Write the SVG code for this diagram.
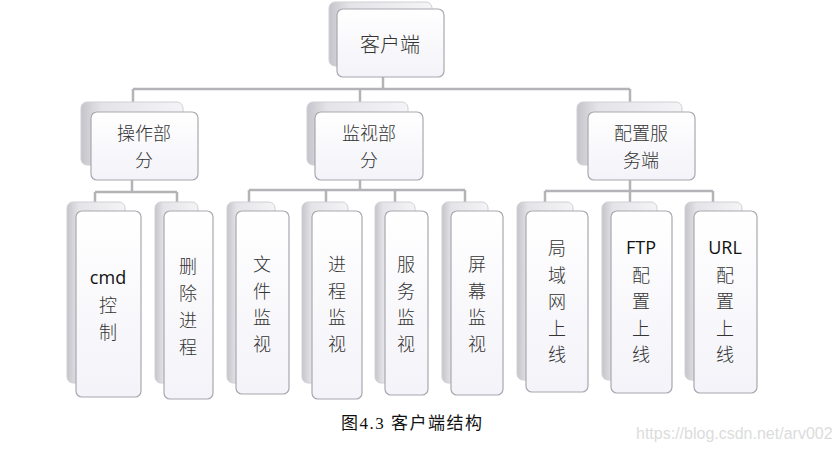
<svg xmlns="http://www.w3.org/2000/svg" width="838" height="452" viewBox="0 0 838 452">
<style>
.back{fill:url(#gb);stroke:#d0d0d6;stroke-width:1}
.front{fill:url(#gf);stroke:#a8a8b0;stroke-width:1.2}
.t{font-family:"Noto Sans CJK SC","Noto Sans",sans-serif;font-size:18px;font-weight:300;fill:#333;text-anchor:middle;dominant-baseline:central}
.e{font-family:"Open Sans","Noto Sans",sans-serif;font-size:18px;font-weight:400;fill:#111}
.c{fill:none;stroke:#b4b4b8;stroke-width:2.5}
</style>
<defs>
<linearGradient id="gb" x1="0" y1="0" x2="1" y2="0">
<stop offset="0" stop-color="#c4c4ca"/><stop offset="0.2" stop-color="#e4e4e8"/><stop offset="1" stop-color="#f4f4f6"/>
</linearGradient>
<linearGradient id="gf" x1="0" y1="0" x2="0" y2="1">
<stop offset="0" stop-color="#ffffff"/><stop offset="1" stop-color="#f3f3f9"/>
</linearGradient>
</defs>
<rect width="838" height="452" fill="#fff"/>
<g id="connectors">
<path class="c" d="M383 77V89M133 89H630M133 89V102M360 89V102M630 89V102"/>
<path class="c" d="M132 180V192M95 192H177M95 192V202M177 192V202"/>
<path class="c" d="M360 180V190M249 190H465M249 190V202M326 190V202M395 190V202M465 190V202"/>
<path class="c" d="M630 180V191M545 191H713M545 191V202M630 191V202M713 191V202"/>
</g>
<g id="root">
<rect class="back" x="329" y="2" width="103" height="64" rx="6"/>
<rect class="front" x="337" y="9" width="107" height="68" rx="6"/>
<text class="t" x="390" y="43" style="font-size:20px">客户端</text>
</g>
<g id="op">
<rect class="back" x="81" y="102" width="102" height="63" rx="6"/>
<rect class="front" x="91" y="112" width="107" height="68" rx="6"/>
<text class="t" x="144" y="132">操作部<tspan x="144" dy="26.5">分</tspan></text>
</g>
<g id="mon">
<rect class="back" x="307" y="102" width="101" height="63" rx="6"/>
<rect class="front" x="315" y="112" width="108" height="68" rx="6"/>
<text class="t" x="369" y="132">监视部<tspan x="369" dy="26.5">分</tspan></text>
</g>
<g id="cfg">
<rect class="back" x="577" y="102" width="105" height="63" rx="6"/>
<rect class="front" x="588" y="112" width="107" height="68" rx="6"/>
<text class="t" x="641" y="132">配置服<tspan x="641" dy="26.5">务端</tspan></text>
</g>
<g id="cmd">
<rect class="back" x="67" y="202" width="58" height="181" rx="6"/>
<rect class="front" x="76" y="211" width="65" height="186" rx="6"/>
<text class="t" x="108" y="277"><tspan class="e">cmd</tspan><tspan x="108" dy="27">控</tspan><tspan x="108" dy="26.5">制</tspan></text>
</g>
<g id="del">
<rect class="back" x="155" y="202" width="43" height="181" rx="6"/>
<rect class="front" x="164" y="211" width="49" height="188" rx="6"/>
<text class="t" x="188" y="265">删<tspan x="188" dy="27">除</tspan><tspan x="188" dy="27">进</tspan><tspan x="188" dy="27">程</tspan></text>
</g>
<g id="file">
<rect class="back" x="227" y="202" width="48" height="181" rx="6"/>
<rect class="front" x="236" y="211" width="53" height="183" rx="6"/>
<text class="t" x="262" y="263">文<tspan x="262" dy="26.5">件</tspan><tspan x="262" dy="26.5">监</tspan><tspan x="262" dy="26.5">视</tspan></text>
</g>
<g id="proc">
<rect class="back" x="302" y="202" width="46" height="181" rx="6"/>
<rect class="front" x="312" y="211" width="50" height="188" rx="6"/>
<text class="t" x="337" y="263">进<tspan x="337" dy="26.5">程</tspan><tspan x="337" dy="26.5">监</tspan><tspan x="337" dy="26.5">视</tspan></text>
</g>
<g id="svc">
<rect class="back" x="375" y="202" width="40" height="181" rx="6"/>
<rect class="front" x="385" y="211" width="43" height="184" rx="6"/>
<text class="t" x="406" y="263">服<tspan x="406" dy="26.5">务</tspan><tspan x="406" dy="26.5">监</tspan><tspan x="406" dy="26.5">视</tspan></text>
</g>
<g id="scr">
<rect class="back" x="442" y="202" width="46" height="181" rx="6"/>
<rect class="front" x="451" y="211" width="52" height="184" rx="6"/>
<text class="t" x="477" y="263">屏<tspan x="477" dy="26.5">幕</tspan><tspan x="477" dy="26.5">监</tspan><tspan x="477" dy="26.5">视</tspan></text>
</g>
<g id="lan">
<rect class="back" x="517" y="202" width="56" height="178" rx="6"/>
<rect class="front" x="526" y="211" width="62" height="181" rx="6"/>
<text class="t" x="557" y="247">局<tspan x="557" dy="26.5">域</tspan><tspan x="557" dy="26.5">网</tspan><tspan x="557" dy="26.5">上</tspan><tspan x="557" dy="26.5">线</tspan></text>
</g>
<g id="ftp">
<rect class="back" x="602" y="202" width="55" height="178" rx="6"/>
<rect class="front" x="611" y="211" width="61" height="182" rx="6"/>
<text class="t" x="641" y="247"><tspan class="e">FTP</tspan><tspan x="641" dy="26.5">配</tspan><tspan x="641" dy="26.5">置</tspan><tspan x="641" dy="26.5">上</tspan><tspan x="641" dy="26.5">线</tspan></text>
</g>
<g id="url">
<rect class="back" x="685" y="202" width="57" height="178" rx="6"/>
<rect class="front" x="694" y="211" width="63" height="182" rx="6"/>
<text class="t" x="725" y="247"><tspan class="e">URL</tspan><tspan x="725" dy="26.5">配</tspan><tspan x="725" dy="26.5">置</tspan><tspan x="725" dy="26.5">上</tspan><tspan x="725" dy="26.5">线</tspan></text>
</g>
<text x="341" y="429" font-family="'Liberation Serif','Noto Sans CJK SC',serif" font-size="17" letter-spacing="1.5" fill="#111">图4.3 客户端结构</text>
<text x="636" y="439" font-family="'Liberation Sans',Arial,sans-serif" font-size="16" fill="#dcdcdc">https://blog.csdn.net/arv002</text>
</svg>
